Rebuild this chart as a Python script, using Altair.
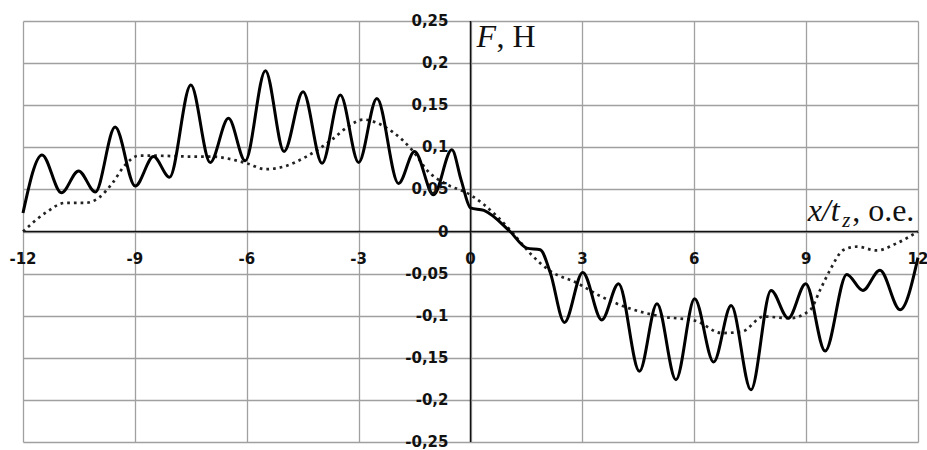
import altair as alt
import pandas as pd

# Solid curve (measured force)
solid_x = [-12, -11.49, -10.97, -10.51, -10.06, -9.53, -8.99, -8.50, -8.07, -7.50,
           -6.98, -6.49, -6.04, -5.50, -5.00, -4.49, -3.98, -3.49, -3.00, -2.51,
           -1.93, -1.50, -0.99, -0.50, -0.25, 0.0, 0.36, 1.06, 1.51, 1.87,
           2.14, 2.52, 3.01, 3.52, 3.97, 4.53, 5.00, 5.51, 6.01, 6.52,
           6.99, 7.52, 8.06, 8.52, 8.99, 9.51, 10.09, 10.52, 10.98, 11.52, 12.0]
solid_y = [0.022, 0.091, 0.046, 0.072, 0.047, 0.124, 0.054, 0.089, 0.0645, 0.174,
           0.082, 0.1345, 0.084, 0.191, 0.095, 0.166, 0.081, 0.162, 0.082, 0.158,
           0.057, 0.095, 0.0435, 0.097, 0.061, 0.028, 0.025, 0.0, -0.0197, -0.0217,
           -0.049, -0.108, -0.0486, -0.105, -0.062, -0.166, -0.0858, -0.176, -0.080, -0.155,
           -0.088, -0.188, -0.070, -0.103, -0.062, -0.142, -0.051, -0.070, -0.046, -0.093, -0.031]

# Dotted curve (smoothed)
dotted_x = [-12, -11.4, -10.87, -10.33, -9.97, -9.61, -9.26, -8.9, -8.45, -7.5,
            -6.98, -6.0, -5.5, -5.01, -4.4, -3.72, -3.27, -2.87, -2.51, -2.11,
            -1.57, -1.13, -0.68, 0.0, 0.36, 1.06, 1.6, 2.14, 2.85, 3.45,
            4.24, 5.13, 6.03, 6.74, 7.28, 7.86, 8.57, 9.11, 9.38, 9.65,
            10.0, 10.36, 10.89, 11.43, 12.0]
dotted_y = [0.0, 0.022, 0.034, 0.034, 0.040, 0.057, 0.079, 0.090, 0.090, 0.089,
            0.089, 0.081, 0.074, 0.077, 0.089, 0.109, 0.125, 0.133, 0.129, 0.119,
            0.097, 0.071, 0.057, 0.0435, 0.032, 0.002, -0.026, -0.047, -0.061, -0.076,
            -0.091, -0.101, -0.106, -0.1206, -0.119, -0.101, -0.103, -0.093, -0.069, -0.045,
            -0.022, -0.018, -0.0225, -0.014, 0.0]

x_ticks = [-12, -9, -6, -3, 0, 3, 6, 9, 12]
x_tick_labels = ["-12", "-9", "-6", "-3", "0", "3", "6", "9", "12"]
y_ticks = [0.25, 0.2, 0.15, 0.1, 0.05, 0, -0.05, -0.1, -0.15, -0.2, -0.25]
y_tick_labels = ["0,25", "0,2", "0,15", "0,1", "0,05", "0",
                 "-0,05", "-0,1", "-0,15", "-0,2", "-0,25"]

solid = pd.DataFrame({"x": solid_x, "y": solid_y})
dotted = pd.DataFrame({"x": dotted_x, "y": dotted_y})
xlab = pd.DataFrame({"x": x_ticks, "y": [0] * len(x_ticks), "t": x_tick_labels})
ylab = pd.DataFrame({"x": [0] * len(y_ticks), "y": y_ticks, "t": y_tick_labels})

xs = alt.Scale(domain=[-12, 12], nice=False, zero=False)
ys = alt.Scale(domain=[-0.25, 0.25], nice=False, zero=False)

grid_x = alt.Axis(values=x_ticks, grid=True, labels=False, ticks=False, domain=False,
                  title=None, gridColor="#a0a0a0", gridWidth=1.3)
grid_y = alt.Axis(values=y_ticks, grid=True, labels=False, ticks=False, domain=False,
                  title=None, gridColor="#a0a0a0", gridWidth=1.3)

X = alt.X("x:Q", scale=xs, axis=grid_x)
Y = alt.Y("y:Q", scale=ys, axis=grid_y)

zero_v = alt.Chart(pd.DataFrame({"x": [0]})).mark_rule(color="#111", strokeWidth=1.5).encode(
    x=alt.X("x:Q", scale=xs))
zero_h = alt.Chart(pd.DataFrame({"y": [0]})).mark_rule(color="#111", strokeWidth=1.5).encode(
    y=alt.Y("y:Q", scale=ys))

dot_line = alt.Chart(dotted).mark_line(
    color="#222", strokeWidth=2.7, strokeDash=[2.7, 4], interpolate="monotone"
).encode(x=X, y=Y)

solid_line = alt.Chart(solid).mark_line(
    color="#000", strokeWidth=3, interpolate="monotone"
).encode(x=X, y=Y)

lab_style = dict(font="DejaVu Sans", fontWeight="bold", fontSize=15, color="#111")

xl = alt.Chart(xlab).mark_text(align="center", baseline="middle", dy=27, **lab_style).encode(
    x=alt.X("x:Q", scale=xs), y=alt.Y("y:Q", scale=ys), text="t:N")
yl = alt.Chart(ylab).mark_text(align="right", baseline="middle", dx=-22, **lab_style).encode(
    x=alt.X("x:Q", scale=xs), y=alt.Y("y:Q", scale=ys), text="t:N")

serif = "Liberation Serif"
def title_piece(xv, yv, text, dx, dy, size, italic):
    kw = dict(align="left", baseline="alphabetic", dx=dx, dy=dy, font=serif,
              fontSize=size, color="#111", text=text)
    if italic:
        kw["fontStyle"] = "italic"
    return alt.Chart(pd.DataFrame({"x": [xv], "y": [yv]})).mark_text(**kw).encode(
        x=alt.X("x:Q", scale=xs), y=alt.Y("y:Q", scale=ys))

t_F = title_piece(0, 0.25, "F", 6, 26, 32, True)
t_N = title_piece(0, 0.25, ", Н", 26, 26, 32, False)
t_x = title_piece(9, 0, "x/t", 1.5, -11, 32, True)
t_z = title_piece(9, 0, "z", 36, -5, 21, True)
t_oe = title_piece(9, 0, ", о.е.", 46, -11, 32, False)

chart = alt.layer(
    zero_v, zero_h, dot_line, solid_line, xl, yl, t_F, t_N, t_x, t_z, t_oe
).properties(
    width=895, height=421,
    autosize=alt.AutoSizeParams(type="none"),
    padding={"left": 23, "top": 21, "right": 9, "bottom": 8},
    background="white",
).configure_view(strokeWidth=0)

chart.save("out.html", embed_options={"renderer": "svg", "actions": False})
